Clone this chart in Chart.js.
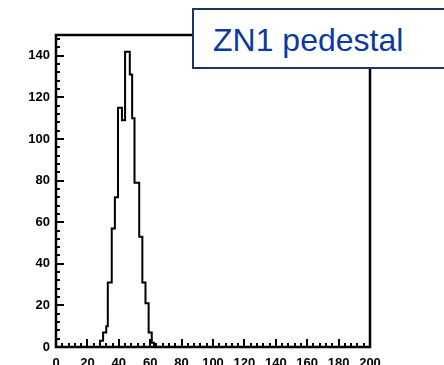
<!DOCTYPE html>
<html>
<head>
<meta charset="utf-8">
<script src="https://cdn.jsdelivr.net/npm/chart.js@4"></script>
<style>
  body { margin: 0; background: #fff; }
  #wrap { position: relative; width: 444px; height: 365px; overflow: hidden; }
  #title {
    position: absolute; left: 192px; top: 8px; width: 270px; height: 57px;
    border: 2px solid #1b3664; background: #fff;
    font-family: "Liberation Sans", Arial, sans-serif; font-size: 32px;
    color: #0a3a9e; line-height: 60px; padding-left: 19px; box-sizing: content-box;
  }
</style>
</head>
<body>
<div id="wrap">
  <canvas id="histo" width="444" height="365"></canvas>
  <div id="title">ZN1 pedestal</div>
</div>
<script>
// bin edges (left edge of each bin) and counts
const binEdges = [0, 28, 30, 32, 33, 35.5, 37.5, 39.5, 42, 44, 47, 48.5, 50, 53, 55, 57, 59, 61, 62.5, 200];
const counts   = [0, 3, 7, 10, 31, 57, 72, 115, 109, 142, 131, 110, 79, 53, 31, 21, 7, 2, 0];
const xTicks = [0, 20, 40, 60, 80, 100, 120, 140, 160, 180, 200];
const yTicks = [0, 20, 40, 60, 80, 100, 120, 140];
const xRange = [0, 200];
const yRange = [0, 150];

const points = binEdges.map((e, i) => ({ x: e, y: i < counts.length ? counts[i] : 0 }));

// frame + inward tick marks like the original
const framePlugin = {
    id: 'frame',
    afterDraw(chart) {
        const c = chart.ctx;
        const a = chart.chartArea;
        const xs = chart.scales.x, ys = chart.scales.y;
        c.save();
        c.strokeStyle = '#000';
        c.lineWidth = 2;
        c.beginPath();
        for (let v = xRange[0]; v <= xRange[1]; v += 4) {
            const px = Math.round(xs.getPixelForValue(v));
            const len = v % 20 === 0 ? 8 : 4;
            c.moveTo(px, a.bottom);
            c.lineTo(px, a.bottom - len);
        }
        for (let v = 0; v <= 148; v += 4) {
            const py = Math.round(ys.getPixelForValue(v));
            const len = v % 20 === 0 ? 8 : 4;
            c.moveTo(a.left, py);
            c.lineTo(a.left + len, py);
        }
        c.stroke();
        c.lineWidth = 2.5;
        c.strokeRect(a.left, a.top, a.right - a.left, a.bottom - a.top);
        c.restore();
    }
};

const ctx = document.getElementById('histo').getContext('2d');
const histo = new Chart(ctx, {
    type: 'line',
    data: {
        datasets: [{
            data: points,
            stepped: 'before',
            borderColor: '#000',
            borderWidth: 2,
            pointRadius: 0,
            fill: false
        }]
    },
    options: {
        responsive: false,
        animation: false,
        layout: { padding: { top: 35, right: 74, left: 0, bottom: 0 } },
        plugins: { legend: { display: false }, tooltip: { enabled: false } },
        scales: {
            x: {
                type: 'linear',
                min: xRange[0],
                max: xRange[1],
                afterBuildTicks: s => { s.ticks = xTicks.map(v => ({ value: v })); },
                afterFit: s => { s.height = 18; },
                grid: { display: false, drawTicks: false },
                border: { display: false },
                ticks: {
                    padding: 9,
                    maxRotation: 0,
                    autoSkip: false,
                    color: '#000',
                    font: { family: 'Liberation Sans', size: 13, weight: 'bold' }
                }
            },
            y: {
                min: yRange[0],
                max: yRange[1],
                afterBuildTicks: s => { s.ticks = yTicks.map(v => ({ value: v })); },
                afterFit: s => { s.width = 56; },
                grid: { display: false, drawTicks: false },
                border: { display: false },
                ticks: {
                    padding: 6,
                    color: '#000',
                    font: { family: 'Liberation Sans', size: 13, weight: 'bold' }
                }
            }
        }
    },
    plugins: [framePlugin]
});
</script>
</body>
</html>
